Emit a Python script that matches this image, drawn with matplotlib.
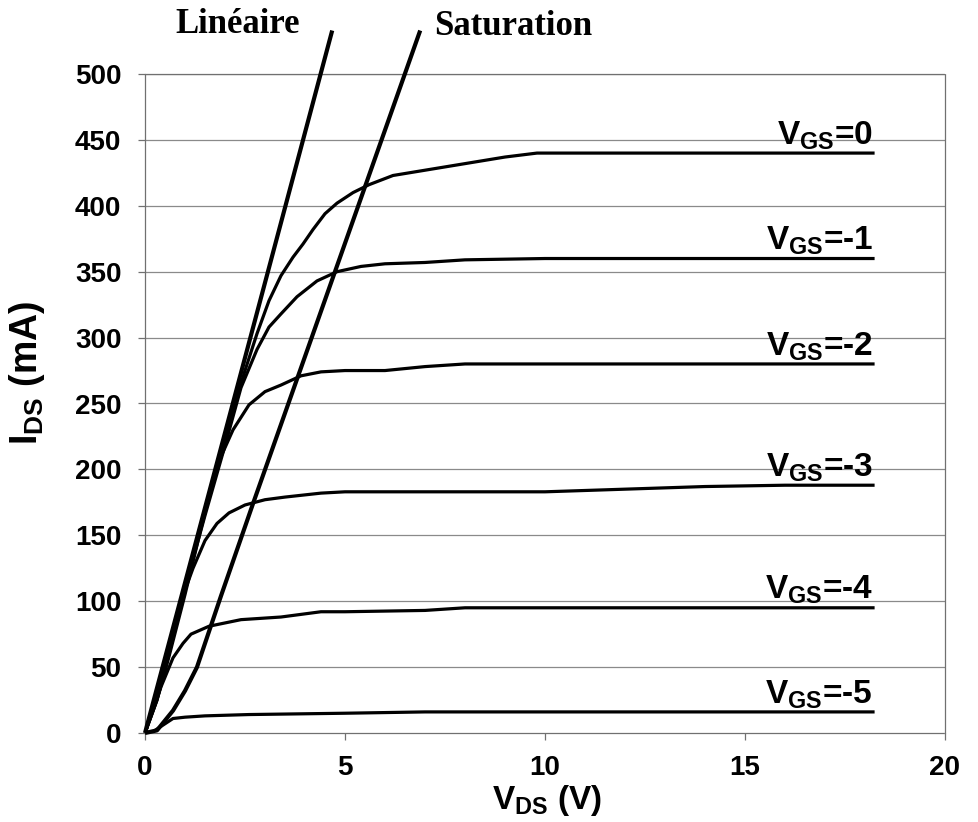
import matplotlib
matplotlib.use("Agg")
import matplotlib.pyplot as plt

plt.rcParams['font.family'] = ['Liberation Sans', 'DejaVu Sans']
plt.rcParams['mathtext.fontset'] = 'custom'
plt.rcParams['mathtext.rm'] = 'Liberation Sans:bold'
plt.rcParams['mathtext.bf'] = 'Liberation Sans:bold'
plt.rcParams['mathtext.it'] = 'Liberation Sans:bold'

# ---- data ----
vgs_labels = ['0', '-1', '-2', '-3', '-4', '-5']

v0_x = [0, 0.3, 0.6, 1.0, 1.5, 2.0, 2.5, 2.8, 3.1, 3.4, 3.7, 3.95, 4.2, 4.5, 4.8, 5.2, 5.6, 6.2, 7.0, 8.0, 9.0, 9.8, 12, 15, 18.2]
v0_y = [0, 30, 65, 112, 170, 225, 275, 303, 328, 347, 361, 371, 382, 394, 402, 410, 416, 423, 427, 432, 437, 440, 440, 440, 440]

v1_x = [0, 0.3, 0.6, 1.0, 1.5, 2.0, 2.4, 2.8, 3.1, 3.4, 3.8, 4.3, 4.8, 5.4, 6.0, 7.0, 8.0, 10, 14, 18.2]
v1_y = [0, 28, 62, 110, 165, 218, 262, 291, 308, 318, 331, 343, 350, 354, 356, 357, 359, 360, 360, 360]

v2_x = [0, 0.3, 0.6, 1.0, 1.4, 1.8, 2.2, 2.6, 3.0, 3.4, 3.9, 4.4, 5.0, 6.0, 7.0, 8.0, 10, 14, 18.2]
v2_y = [0, 25, 58, 105, 155, 203, 230, 249, 259, 264, 271, 274, 275, 275, 278, 280, 280, 280, 280]

v3_x = [0, 0.3, 0.6, 0.96, 1.2, 1.5, 1.8, 2.1, 2.5, 3.0, 3.5, 4.4, 5.0, 7.0, 10, 12, 14, 16, 18.2]
v3_y = [0, 25, 60, 105, 125, 146, 159, 167, 173, 177, 179, 182, 183, 183, 183, 185, 187, 188, 188]

v4_x = [0, 0.2, 0.4, 0.7, 0.95, 1.15, 1.6, 2.4, 3.4, 4.4, 5.0, 7.0, 8.0, 10, 18.2]
v4_y = [0, 17, 35, 57, 68, 75, 81, 86, 88, 92, 92, 93, 95, 95, 95]

v5_x = [0, 0.2, 0.4, 0.7, 1.0, 1.5, 2.6, 5.0, 7.0, 10, 18.2]
v5_y = [0, 1, 5, 11, 12, 13, 14, 15, 16, 16, 16]

lin_x = [0, 4.68]
lin_y = [0, 533]

sat_x = [0, 0.3, 0.7, 1.0, 1.3, 1.6, 1.9, 2.7, 6.88]
sat_y = [0, 2, 17, 32, 50, 77, 104, 174, 533]

curves_x = [v0_x, v1_x, v2_x, v3_x, v4_x, v5_x]
curves_y = [v0_y, v1_y, v2_y, v3_y, v4_y, v5_y]

x_ticks = [0, 5, 10, 15, 20]
y_ticks = [0, 50, 100, 150, 200, 250, 300, 350, 400, 450, 500]

# ---- figure ----
W, H = 979, 822
fig = plt.figure(figsize=(W / 100, H / 100), dpi=100)
ax = fig.add_axes([145 / W, (H - 733) / H, 800 / W, (733 - 74) / H])
ax.set_xlim(0, 20)
ax.set_ylim(0, 500)

for yv in y_ticks[1:]:
    ax.axhline(yv, color='#8a8a8a', lw=0.9, zorder=1)

for s in ax.spines.values():
    s.set_color('#707070')
    s.set_linewidth(0.9)
    s.set_linestyle((0, (1, 1)))

ax.set_xticks(x_ticks)
ax.set_yticks(y_ticks)
ax.tick_params(axis='both', direction='out', length=5, width=0.9, color='#707070',
               labelsize=20)
ax.tick_params(axis='y', pad=12)
ax.tick_params(axis='x', pad=11)
for lab in ax.get_xticklabels() + ax.get_yticklabels():
    lab.set_fontweight('bold')

for cx, cy, lab in zip(curves_x, curves_y, vgs_labels):
    ax.plot(cx, cy, color='black', lw=2.3, solid_joinstyle='round', zorder=3)
    ax.text(cx[-1], cy[-1] + 1, r'$\mathrm{V}_{\mathrm{GS}}$=' + lab, ha='right', va='bottom',
            fontsize=24, fontweight='bold', zorder=4)

ax.plot(lin_x, lin_y, color='black', lw=3.0, clip_on=False, zorder=3, solid_capstyle='butt')
ax.plot(sat_x, sat_y, color='black', lw=3.0, clip_on=False, zorder=3, solid_capstyle='butt')

fig.text(175 / W, 1 - 33 / H, 'Linéaire', family='Liberation Serif', fontweight='bold',
         fontsize=25, ha='left', va='baseline')
fig.text(434 / W, 1 - 35 / H, 'Saturation', family='Liberation Serif', fontweight='bold',
         fontsize=25, ha='left', va='baseline')

fig.text(547 / W, 4 / H, r'$\mathrm{V}_{\mathrm{DS}}$ (V)', ha='center', va='bottom',
         fontsize=24, fontweight='bold')
fig.text(27 / W, 1 - 373 / H, r'$\mathrm{I}_{\mathrm{DS}}$ (mA)', ha='center', va='center',
         rotation=90, fontsize=27, fontweight='bold')

fig.savefig('out.png', dpi=100)
